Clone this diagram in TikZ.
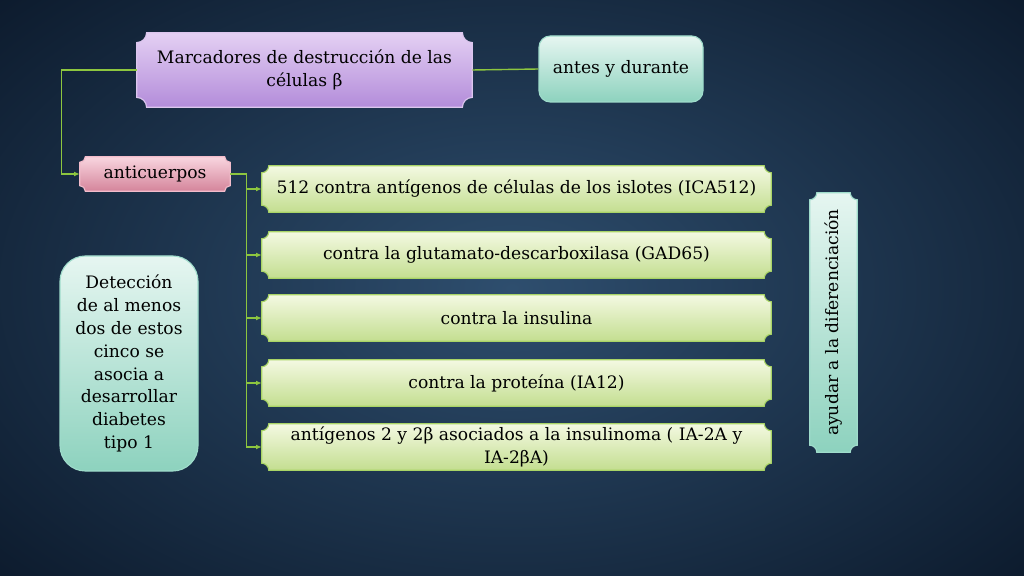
\documentclass[tikz,border=0pt]{standalone}
\usepackage{fontspec}
\setmainfont{DejaVu Serif}
\usepackage{graphicx}
\usetikzlibrary{backgrounds,calc,arrows.meta}

\definecolor{bgdark}{HTML}{0C1A2C}
\definecolor{bgmid}{HTML}{2E4E6E}
\definecolor{linkgreen}{HTML}{8DC63F}
\definecolor{lilacA}{HTML}{E4D0F3}
\definecolor{lilacB}{HTML}{B38CDA}
\definecolor{lilacE}{HTML}{DCC6EE}
\definecolor{pinkA}{HTML}{F9D6E0}
\definecolor{pinkB}{HTML}{D4849A}
\definecolor{pinkE}{HTML}{F2BCCB}
\definecolor{limeA}{HTML}{F3F9E2}
\definecolor{limeB}{HTML}{C4DE90}
\definecolor{limeE}{HTML}{A9D466}
\definecolor{tealA}{HTML}{E6F6F1}
\definecolor{tealB}{HTML}{8DD2BE}
\definecolor{tealE}{HTML}{9FDCCB}

% plaque with notched corners drawn behind a node
\newcommand\plaque[5]{%
  \path[x=1cm,y=1cm,top color=#2,bottom color=#3,draw=#4,line width=0.8pt]
    let \p1=(#1.south west), \p2=(#1.north east) in
    ({\x1},{\y2-#5}) arc[start angle=270,end angle=360,radius=#5]
    -- ({\x2-#5},{\y2}) arc[start angle=180,end angle=270,radius=#5]
    -- ({\x2},{\y1+#5}) arc[start angle=90,end angle=180,radius=#5]
    -- ({\x1+#5},{\y1}) arc[start angle=0,end angle=90,radius=#5]
    -- cycle;}

\begin{document}
\begin{tikzpicture}[
        x=0.025cm, y=-0.025cm,
        font=\fontsize{12.2}{16.3}\selectfont,
        every node/.style={text=black, align=center, inner sep=0pt},
        wh/.style 2 args={minimum width=#1*0.025cm, minimum height=#2*0.025cm},
        tealbox/.style={rounded corners=#1, draw=tealE, line width=0.8pt, top color=tealA, bottom color=tealB},
        joinline/.style={draw=linkgreen, line width=1pt},
        arrow/.style={joinline, -{Latex[length=4pt,width=3.5pt]}}
    ]
    \useasboundingbox (0,0) rectangle (1024,576);

    % Boxes
    \node (marc) at (304.5,70) [wh={335}{74}] {Marcadores de destrucción de las\\células β};
    \node (antes) at (621,69) [wh={164}{66}, tealbox=8pt] {antes y durante};
    \node (anti) at (155,174) [wh={150}{34}] {anticuerpos};

    \node (g1) at (516.5,189) [wh={509}{46}] {512 contra antígenos de células de los islotes (ICA512)};
    \node (g2) at (516.5,255) [wh={509}{46}] {contra la glutamato-descarboxilasa (GAD65)};
    \node (g3) at (516.5,318) [wh={509}{46}] {contra la insulina};
    \node (g4) at (516.5,383) [wh={509}{46}] {contra la proteína (IA12)};
    \node (g5) at (516.5,447) [wh={509}{46}] {antígenos 2 y 2β asociados a la insulinoma ( IA-2A y\\IA-2βA)};

    \node (det) at (129,363.5) [wh={138}{215}, tealbox=18pt] {Detección\\de al menos\\dos de estos\\cinco se\\asocia a\\desarrollar\\diabetes\\tipo 1};
    \node (dif) at (833.5,322.5) [wh={47}{259}] {\rotatebox{90}{ayudar a la diferenciación}};

    % Background and plaques
    \begin{scope}[on background layer]
        \shade[inner color=bgmid, outer color=bgdark] (-200,-150) rectangle (1224,726);
        \plaque{marc}{lilacA}{lilacB}{lilacE}{7pt}
        \plaque{anti}{pinkA}{pinkB}{pinkE}{4pt}
        \foreach \i in {1,...,5} {\plaque{g\i}{limeA}{limeB}{limeE}{5pt}}
        \plaque{dif}{tealA}{tealB}{tealE}{5pt}
    \end{scope}

    % Connectors
    \draw[joinline] (marc.east) -- (antes.west);
    \draw[arrow] (marc.west) -- ++(-75,0) |- (anti.west);
    \foreach \i in {1,...,5}
        \draw[arrow] (anti.east) -- ++(16,0) |- (g\i.west);
\end{tikzpicture}
\end{document}
